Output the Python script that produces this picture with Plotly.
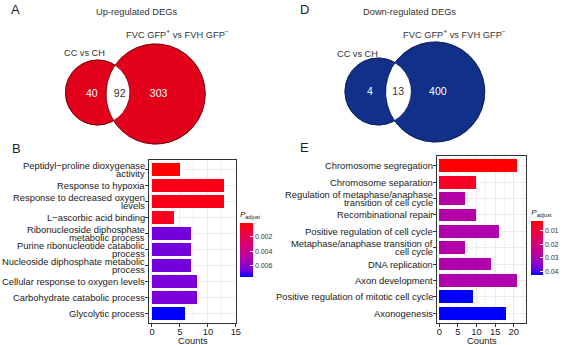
import numpy as np
import plotly.graph_objects as go

W, H = 573, 345

# ---------------- data ----------------
venn_up_counts = [40, 92, 303]      # CC vs CH only, shared, FVC vs FVH only
venn_down_counts = [4, 13, 400]
set_name_left = "CC vs CH"
set_name_right = "FVC GFP<sup>+</sup> vs FVH GFP<sup>−</sup>"
title_up = "Up-regulated DEGs"
title_down = "Down-regulated DEGs"

up_terms = [
    "Peptidyl−proline dioxygenase\nactivity",
    "Response to hypoxia",
    "Response to decreased oxygen\nlevels",
    "L−ascorbic acid binding",
    "Ribonucleoside diphosphate\nmetabolic process",
    "Purine ribonucleotide catabolic\nprocess",
    "Nucleoside diphosphate metabolic\nprocess",
    "Cellular response to oxygen levels",
    "Carbohydrate catabolic process",
    "Glycolytic process",
]
up_counts = [5, 13, 13, 4, 7, 7, 7, 8, 8, 6]
up_padj = [0.00002, 0.0005, 0.0005, 0.0006, 0.0066, 0.0066, 0.0066, 0.0064, 0.0064, 0.0076]
up_cbar_ticks = [0.002, 0.004, 0.006]
up_cbar_labels = ["0.002", "0.004", "0.006"]
up_x_ticks = [0, 5, 10, 15]

down_terms = [
    "Chromosome segregation",
    "Chromosome separation",
    "Regulation of metaphase/anaphase\ntransition of cell cycle",
    "Recombinational repair",
    "Positive regulation of cell cycle",
    "Metaphase/anaphase transition of\ncell cycle",
    "DNA replication",
    "Axon development",
    "Positive regulation of mitotic cell cycle",
    "Axonogenesis",
]
down_counts = [21, 10, 7, 10, 16, 7, 14, 21, 9, 18]
down_padj = [0.0027, 0.0067, 0.028, 0.028, 0.029, 0.028, 0.029, 0.029, 0.0429, 0.0429]
down_cbar_ticks = [0.01, 0.02, 0.03, 0.04]
down_cbar_labels = ["0.01", "0.02", "0.03", "0.04"]
down_x_ticks = [0, 5, 10, 15, 20]

x_title = "Counts"
cbar_title = "<i>P</i><sub>adjust</sub>"
panel_letters = ["A", "B", "D", "E"]

# ---------------- styles / layout (pixel geometry) ----------------
FONT = "Liberation Sans, Arial, sans-serif"
TXT = "#1a1a1a"
GRID = "#EBEBEB"
BORDER = "#333333"

def px_x(p):
    return p / W

def px_y(p):
    return 1 - p / H

# ggplot-like red->blue Lab gradient, expressed blue(0) -> red(1) for negated p
cscale = [
    [0.0, "rgb(0,0,255)"], [0.125, "rgb(115,0,224)"], [0.25, "rgb(154,0,195)"],
    [0.375, "rgb(181,0,165)"], [0.5, "rgb(201,0,136)"], [0.625, "rgb(218,0,108)"],
    [0.75, "rgb(232,0,80)"], [0.875, "rgb(244,0,49)"], [1.0, "rgb(255,0,0)"],
]

venn_style = {
    "up": dict(L=(98.5, 92.5, 32.5), R=(157.0, 94.0, 50.0), fill="#E2001A", edge="#7a0008",
               num_pos=[(92.7, 94.3), (120.7, 94.3), (160.0, 94.3)],
               left_lab=(85.5, 53.3), right_lab=(179.0, 33.5), title=(137.5, 12.0)),
    "down": dict(L=(381.5, 91.5, 33.5), R=(439.0, 92.0, 50.0), fill="#10308A", edge="#0a1d5c",
                 num_pos=[(373.3, 92.7), (401.7, 92.7), (441.7, 92.7)],
                 left_lab=(361.0, 54.0), right_lab=(458.0, 33.5), title=(413.0, 12.0)),
}
num_colors = ["white", "#333333", "white"]

fig = go.Figure()


def circle(c, n=721):
    cx, cy, r = c
    th = np.linspace(0, 2 * np.pi, n)
    return cx + r * np.cos(th), cy + r * np.sin(th)


def lens(c1, c2, n=4000):
    x1, y1, r1 = c1
    x2, y2, r2 = c2
    t1 = np.linspace(-np.pi, np.pi, n)
    ax_, ay_ = x1 + r1 * np.cos(t1), y1 + r1 * np.sin(t1)
    m1 = (ax_ - x2) ** 2 + (ay_ - y2) ** 2 <= r2 ** 2
    t2 = np.linspace(0, 2 * np.pi, n)
    bx, by = x2 + r2 * np.cos(t2), y2 + r2 * np.sin(t2)
    m2 = (bx - x1) ** 2 + (by - y1) ** 2 <= r1 ** 2
    return np.concatenate([ax_[m1], bx[m2]]), np.concatenate([ay_[m1], by[m2]])


for key, counts in (("up", venn_up_counts), ("down", venn_down_counts)):
    st = venn_style[key]
    for c in (st["L"], st["R"]):
        cx_, cy_ = circle(c)
        fig.add_trace(go.Scatter(x=cx_, y=cy_, mode="lines", fill="toself", fillcolor=st["fill"],
                                 line=dict(color=st["edge"], width=0.8), xaxis="x3", yaxis="y3",
                                 hoverinfo="skip", showlegend=False))
    lx, ly = lens(st["L"], st["R"])
    fig.add_trace(go.Scatter(x=lx, y=ly, mode="lines", fill="toself", fillcolor="white",
                             line=dict(color="white", width=0), xaxis="x3", yaxis="y3",
                             hoverinfo="skip", showlegend=False))
    for c in (st["L"], st["R"]):
        cx_, cy_ = circle(c)
        fig.add_trace(go.Scatter(x=cx_, y=cy_, mode="lines", line=dict(color=st["edge"], width=0.8),
                                 xaxis="x3", yaxis="y3", hoverinfo="skip", showlegend=False))
    fig.add_trace(go.Scatter(x=[p[0] for p in st["num_pos"]], y=[p[1] for p in st["num_pos"]],
                             mode="text", text=[str(v) for v in counts],
                             textfont=dict(family=FONT, size=10.5, color=num_colors),
                             xaxis="x3", yaxis="y3", hoverinfo="skip", showlegend=False))

# ---------------- bar charts ----------------
fig.add_trace(go.Bar(x=up_counts, y=up_terms, orientation="h", width=0.78,
                     marker=dict(color=[-p for p in up_padj], coloraxis="coloraxis", line=dict(width=0)),
                     xaxis="x", yaxis="y", showlegend=False, hoverinfo="skip"))
fig.add_trace(go.Bar(x=down_counts, y=down_terms, orientation="h", width=0.78,
                     marker=dict(color=[-p for p in down_padj], coloraxis="coloraxis2", line=dict(width=0)),
                     xaxis="x2", yaxis="y2", showlegend=False, hoverinfo="skip"))


def xaxis_cfg(dom, rng, ticks):
    return dict(domain=dom, range=rng, tickmode="array", tickvals=ticks,
                ticks="outside", ticklen=3, tickwidth=1, tickcolor=BORDER, ticklabelstandoff=-3,
                showline=True, mirror=True, linecolor=BORDER, linewidth=1,
                showgrid=True, gridcolor=GRID, gridwidth=1, zeroline=False,
                minor=dict(tickmode="linear", tick0=2.5, dtick=5, showgrid=True, gridcolor="#F2F2F2",
                           gridwidth=0.6, ticks=""),
                tickfont=dict(family=FONT, size=9.4, color=TXT), fixedrange=True)


def yaxis_cfg(dom, terms, anchor):
    return dict(domain=dom, type="category", categoryorder="array", categoryarray=terms,
                range=[len(terms) - 0.4, -0.6], anchor=anchor,
                ticks="outside", ticklen=3, tickwidth=1, tickcolor=BORDER, showticklabels=False,
                showline=True, mirror=True, linecolor=BORDER, linewidth=1,
                showgrid=True, gridcolor=GRID, gridwidth=1, zeroline=False, fixedrange=True)


def cbar_cfg(x, y, length, thick, tickv, tickt):
    return dict(x=px_x(x), xanchor="left", xpad=0, y=px_y(y), yanchor="top", ypad=0,
                len=length, lenmode="pixels", thickness=thick, thicknessmode="pixels",
                outlinewidth=0, tickmode="array", tickvals=[-v for v in tickv], ticktext=tickt,
                ticks="inside", ticklen=3, tickwidth=1, tickcolor="white",
                tickfont=dict(family=FONT, size=7, color="#333333"),
                title=dict(text=cbar_title, side="top", font=dict(family=FONT, size=8, color="#222222")))


annotations = []


def term_labels(terms, xref, yref):
    gap = 7.6
    for i, t in enumerate(terms):
        lines = t.split("\n")
        n = len(lines)
        for k, ln in enumerate(lines):
            annotations.append(dict(text=ln, xref=f"{xref} domain", x=0, xanchor="right", xshift=-2.5,
                                    yref=yref, y=i, yanchor="middle", yshift=((n - 1) / 2 - k) * gap,
                                    showarrow=False, font=dict(family=FONT, size=9.4, color=TXT)))


term_labels(up_terms, "x", "y")
term_labels(down_terms, "x2", "y2")

for xr in ("x", "x2"):
    annotations.append(dict(text=x_title, xref=f"{xr} domain", x=0.5, yref="paper", y=px_y(340),
                            xanchor="center", yanchor="middle", showarrow=False,
                            font=dict(family=FONT, size=9.4, color=TXT)))

for key, title in (("up", title_up), ("down", title_down)):
    st = venn_style[key]
    for (x, y), txt, sz in ((st["title"], title, 9.3), (st["left_lab"], set_name_left, 9.2),
                            (st["right_lab"], set_name_right, 9.3)):
        annotations.append(dict(text=txt, xref="paper", yref="paper", x=px_x(x), y=px_y(y),
                                xanchor="center", yanchor="middle", showarrow=False,
                                font=dict(family=FONT, size=sz, color="#333333")))

letter_pos = [(16, 9.5), (17, 148.5), (307, 9.5), (307, 147.5)]
for L, (x, y) in zip(panel_letters, letter_pos):
    annotations.append(dict(text=L, xref="paper", yref="paper", x=px_x(x), y=px_y(y),
                            xanchor="center", yanchor="middle", showarrow=False,
                            font=dict(family=FONT, size=13, color="#222222")))

fig.update_layout(
    width=W, height=H, autosize=False,
    margin=dict(l=0, r=0, t=0, b=0, pad=0),
    paper_bgcolor="white", plot_bgcolor="rgba(0,0,0,0)",
    font=dict(family=FONT, color=TXT),
    showlegend=False, bargap=0,
    xaxis=xaxis_cfg([px_x(150.5), px_x(238.5)], [-0.5, 15.1], up_x_ticks) | dict(anchor="y"),
    yaxis=yaxis_cfg([px_y(323), px_y(160)], up_terms, "x"),
    xaxis2=xaxis_cfg([px_x(441), px_x(531)], [-0.6, 23.4], down_x_ticks) | dict(anchor="y2"),
    yaxis2=yaxis_cfg([px_y(323), px_y(156)], down_terms, "x2"),
    xaxis3=dict(domain=[0, 1], range=[0, W], visible=False, anchor="y3", fixedrange=True),
    yaxis3=dict(domain=[0, 1], range=[H, 0], visible=False, anchor="x3", fixedrange=True),
    coloraxis=dict(cmin=-max(up_padj), cmax=-min(up_padj), colorscale=cscale,
                   colorbar=cbar_cfg(242, 208, 69, 13, up_cbar_ticks, up_cbar_labels)),
    coloraxis2=dict(cmin=-max(down_padj), cmax=-min(down_padj), colorscale=cscale,
                    colorbar=cbar_cfg(536, 206, 69, 12, down_cbar_ticks, down_cbar_labels)),
    annotations=annotations,
)

fig.write_html("out.html")
